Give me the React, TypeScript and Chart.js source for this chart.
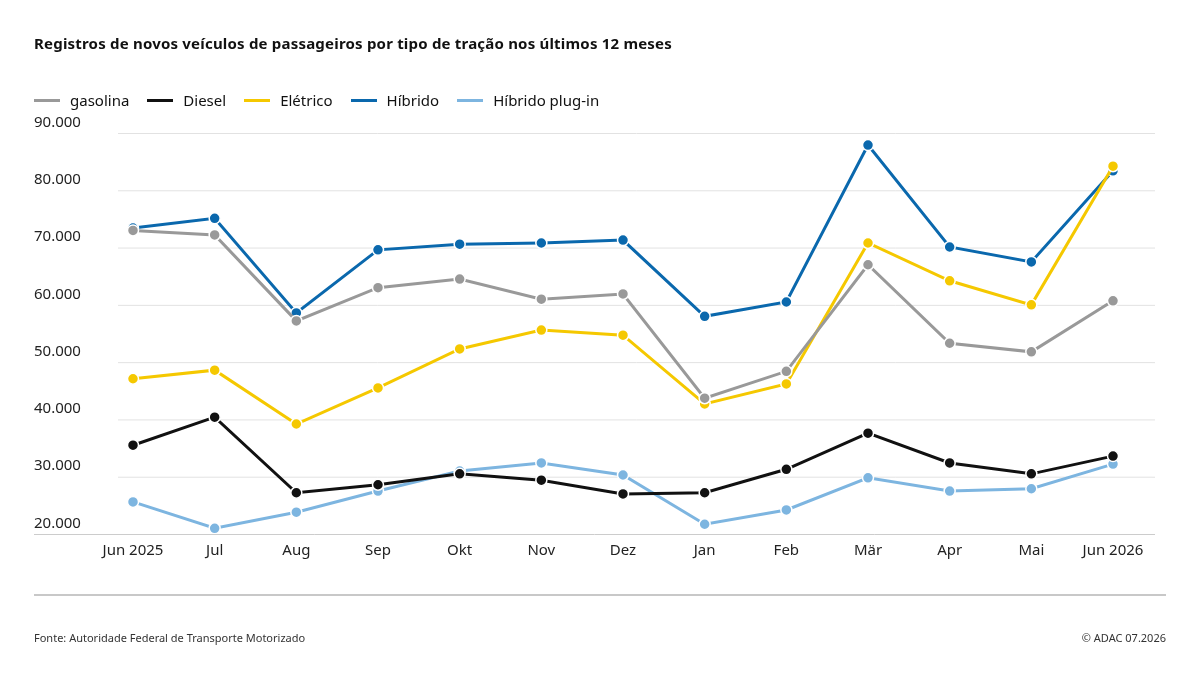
import { useEffect, useRef } from 'react';
import { Chart, registerables } from 'chart.js';

Chart.register(...registerables);

const months = ['Jun 2025', 'Jul', 'Aug', 'Sep', 'Okt', 'Nov', 'Dez', 'Jan', 'Feb', 'Mär', 'Apr', 'Mai', 'Jun 2026'];
const yTicks = [20000, 30000, 40000, 50000, 60000, 70000, 80000, 90000];
const gasolina = [73000, 72200, 57200, 63000, 64500, 61000, 61900, 43700, 48400, 67000, 53300, 51800, 60700];
const diesel = [35500, 40400, 27200, 28600, 30500, 29400, 27000, 27200, 31300, 37600, 32400, 30500, 33600];
const eletrico = [47100, 48600, 39200, 45500, 52300, 55600, 54700, 42700, 46200, 70800, 64200, 60000, 84200];
const hibrido = [73400, 75100, 58600, 69600, 70600, 70800, 71300, 58000, 60500, 87900, 70100, 67500, 83400];
const plugin = [25600, 21000, 23800, 27500, 31000, 32400, 30300, 21700, 24200, 29800, 27500, 27900, 32200];

const series = [
  { label: 'gasolina', data: gasolina, color: '#999999' },
  { label: 'Diesel', data: diesel, color: '#111111' },
  { label: 'Elétrico', data: eletrico, color: '#f5c800' },
  { label: 'Híbrido', data: hibrido, color: '#0a68ad' },
  { label: 'Híbrido plug-in', data: plugin, color: '#7db5e0' },
];

const FONT = '"Noto Sans", sans-serif';
const fmt = (v: number) => (v / 1000).toFixed(0) + '.000';

export default function App() {
  const ref = useRef<HTMLCanvasElement>(null);
  const chartRef = useRef<Chart | null>(null);

  useEffect(() => {
    if (!ref.current) return;
    if (chartRef.current) chartRef.current.destroy();

    const axisPlugin = {
      id: 'axisText',
      beforeDatasetsDraw(chart: any) {
        const ctx = chart.ctx;
        const y = chart.scales.y;
        const x = chart.scales.x;
        ctx.save();
        ctx.font = `15px ${FONT}`;
        ctx.fillStyle = '#222';
        yTicks.forEach((t) => {
          const py = y.getPixelForValue(t);
          ctx.strokeStyle = t === 20000 ? '#cccccc' : '#e2e2e2';
          ctx.lineWidth = 1;
          ctx.beginPath();
          ctx.moveTo(t === 20000 ? 34 : 118, py + 0.5);
          ctx.lineTo(1155, py + 0.5);
          ctx.stroke();
          ctx.textAlign = 'left';
          ctx.textBaseline = 'bottom';
          ctx.fillText(fmt(t), 34, py - 3);
        });
        ctx.textAlign = 'center';
        ctx.textBaseline = 'middle';
        months.forEach((m, i) => {
          ctx.fillText(m, x.getPixelForValue(i), 551);
        });
        ctx.restore();
      },
    };

    chartRef.current = new Chart(ref.current, {
      type: 'line',
      data: {
        labels: months,
        datasets: series.map((s) => ({
          label: s.label,
          data: s.data,
          borderColor: s.color,
          backgroundColor: s.color,
          pointBackgroundColor: s.color,
          pointBorderColor: '#ffffff',
          pointBorderWidth: 1.5,
          pointRadius: 5.5,
          borderWidth: 3,
          tension: 0,
        })),
      },
      options: {
        animation: false,
        responsive: false,
        layout: { padding: { left: 133, right: 87, top: 133, bottom: 141 } },
        plugins: { legend: { display: false }, tooltip: { enabled: false } },
        scales: {
          x: { display: false, offset: false },
          y: { display: false, min: 20000, max: 90000 },
        },
      },
      plugins: [axisPlugin],
    });

    return () => {
      chartRef.current?.destroy();
      chartRef.current = null;
    };
  }, []);

  return (
    <div style={{ position: 'fixed', inset: 0, width: 1200, height: 675, background: '#fff', fontFamily: FONT, color: '#111' }}>
      <canvas ref={ref} width={1200} height={675} style={{ position: 'absolute', left: 0, top: 0 }} />
      <div style={{ position: 'absolute', left: 34, top: 33, fontSize: 15, fontWeight: 700, letterSpacing: 0.2 }}>
        Registros de novos veículos de passageiros por tipo de tração nos últimos 12 meses
      </div>
      <div style={{ position: 'absolute', left: 34, top: 90, display: 'flex', gap: 18, fontSize: 15 }}>
        {series.map((s) => (
          <div key={s.label} style={{ display: 'flex', alignItems: 'center', gap: 10 }}>
            <span style={{ width: 26, height: 3, background: s.color, display: 'inline-block' }} />
            {s.label}
          </div>
        ))}
      </div>
      <div style={{ position: 'absolute', left: 34, top: 594, width: 1132, height: 2, background: '#c8c8c8' }} />
      <div style={{ position: 'absolute', left: 34, top: 630, fontSize: 11, color: '#333' }}>
        Fonte: Autoridade Federal de Transporte Motorizado
      </div>
      <div style={{ position: 'absolute', right: 34, top: 630, fontSize: 11, color: '#333' }}>© ADAC 07.2026</div>
    </div>
  );
}
